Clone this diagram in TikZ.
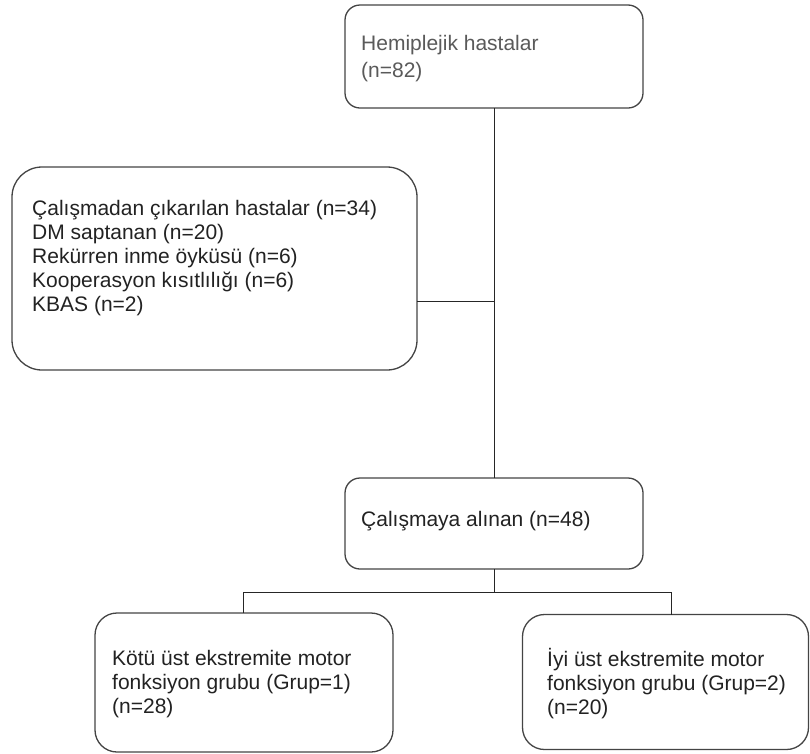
\documentclass[tikz,border=0pt]{standalone}
\usepackage{fontspec}
\setmainfont{Liberation Sans}
\definecolor{edge}{HTML}{444444}
\definecolor{ink}{HTML}{222222}
\definecolor{greyink}{HTML}{5A5A5A}
\begin{document}
\begin{tikzpicture}[x=1pt,y=-1pt,
  box/.style={draw=edge, line width=1.3pt, fill=white, outer sep=0pt, inner sep=0pt},
  txt/.style={anchor=west, align=left, inner sep=0pt, text=ink, font=\fontsize{21}{24}\selectfont},
  conn/.style={draw=black!85, line width=1pt}]
\useasboundingbox (0,0) rectangle (810,753);
% boxes
\node[box, minimum width=298pt, minimum height=103pt, rounded corners=15pt] (b1) at (494,56.5) {};
\node[box, minimum width=405pt, minimum height=203pt, rounded corners=30pt] (b2) at (214.5,268.5) {};
\node[box, minimum width=298pt, minimum height=91pt, rounded corners=15pt] (b3) at (494,523.5) {};
\node[box, minimum width=298pt, minimum height=139pt, rounded corners=22pt] (b4) at (244,682.5) {};
\node[box, minimum width=286pt, minimum height=135pt, rounded corners=22pt] (b5) at (665.5,682) {};
% texts
\node[txt, text=greyink, font=\fontsize{21}{27}\selectfont] (t1) at (361,58.5) {Hemiplejik hastalar\\(n=82)};
\node[txt] (t2) at (32,258) {Çalışmadan çıkarılan hastalar (n=34)\\DM saptanan (n=20)\\Rekürren inme öyküsü (n=6)\\Kooperasyon kısıtlılığı (n=6)\\KBAS (n=2)};
\node[txt] (t3) at (361,521) {Çalışmaya alınan (n=48)};
\node[txt] (t4) at (112,684) {Kötü üst ekstremite motor\\fonksiyon grubu (Grup=1)\\(n=28)};
\node[txt] (t5) at (547,684) {İyi üst ekstremite motor\\fonksiyon grubu (Grup=2)\\(n=20)};
% connectors
\coordinate (j1) at (494,301);
\coordinate (j2) at (494,592);
\coordinate (jl) at (243,592);
\coordinate (jr) at (671,592);
\draw[conn] (b1.south) -- (b3.north);
\draw[conn] (b2.east |- j1) -- (j1);
\draw[conn] (b3.south) -- (j2);
\draw[conn] (jl) -- (jr);
\draw[conn] (jl) -- (jl |- b4.north);
\draw[conn] (jr) -- (jr |- b5.north);
\end{tikzpicture}
\end{document}
